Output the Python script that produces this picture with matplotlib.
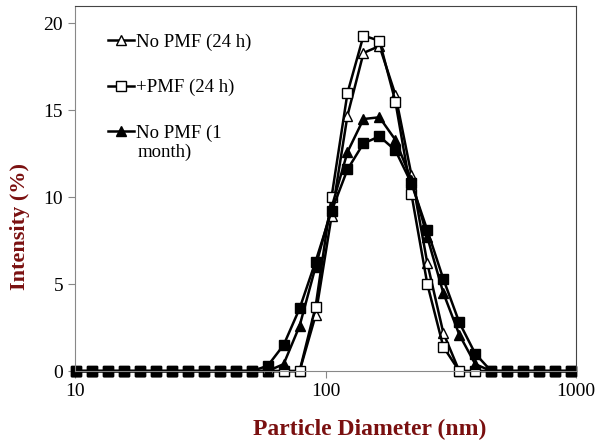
import matplotlib
matplotlib.use("Agg")
import matplotlib.pyplot as plt

# Zetasizer size bins (nm)
diameter = [10.10, 11.70, 13.54, 15.69, 18.17, 21.04, 24.36, 28.21, 32.67, 37.84,
            43.82, 50.75, 58.77, 68.06, 78.82, 91.28, 105.7, 122.4, 141.8, 164.2,
            190.1, 220.2, 255.0, 295.3, 342.0, 396.1, 458.7, 531.2, 615.1, 712.4,
            825.0, 955.4]

no_pmf_24h = [0, 0, 0, 0, 0, 0, 0, 0, 0, 0, 0, 0, 0, 0, 0, 3.2, 8.9, 14.7, 18.3, 18.7,
              15.9, 11.3, 6.2, 2.2, 0, 0, 0, 0, 0, 0, 0, 0]
pmf_24h = [0, 0, 0, 0, 0, 0, 0, 0, 0, 0, 0, 0, 0, 0, 0, 3.7, 10.0, 16.0, 19.3, 19.0,
           15.5, 10.2, 5.0, 1.4, 0, 0, 0, 0, 0, 0, 0, 0]
no_pmf_1m = [0, 0, 0, 0, 0, 0, 0, 0, 0, 0, 0, 0, 0, 0.4, 2.6, 6.0, 9.4, 12.6, 14.5, 14.6,
             13.3, 11.0, 7.7, 4.5, 2.1, 0.4, 0, 0, 0, 0, 0, 0]
pmf_1m = [0, 0, 0, 0, 0, 0, 0, 0, 0, 0, 0, 0, 0.3, 1.5, 3.6, 6.3, 9.2, 11.6, 13.1, 13.5,
          12.7, 10.8, 8.1, 5.3, 2.8, 1.0, 0, 0, 0, 0, 0, 0]

plt.rcParams['font.family'] = ['Liberation Serif', 'DejaVu Serif']

fig = plt.figure(figsize=(6, 4.46), dpi=100)
ax = fig.add_axes([0.125, 0.168, 0.835, 0.8185])

ms = 7
ax.plot(diameter, no_pmf_24h, '-^', color='black', mfc='white', mec='black', lw=1.8, ms=ms,
        label='No PMF (24 h)', clip_on=False)
ax.plot(diameter, pmf_24h, '-s', color='black', mfc='white', mec='black', lw=1.8, ms=ms,
        label='+PMF (24 h)', clip_on=False)
ax.plot(diameter, no_pmf_1m, '-^', color='black', mfc='black', lw=1.8, ms=ms,
        label='No PMF (1', clip_on=False)
ax.plot(diameter, pmf_1m, '-s', color='black', mfc='black', lw=1.8, ms=ms,
        label='_+PMF (1 month)', clip_on=False)

ax.set_xscale('log')
ax.set_xlim(10, 1000)
ax.set_ylim(0, 21)
ax.set_yticks([0, 5, 10, 15, 20])
ax.set_xticks([10, 100, 1000])
ax.set_xticklabels(['10', '100', '1000'])
ax.minorticks_off()
ax.tick_params(labelsize=14, direction='out', color='#888888', length=5)

for s in ['left', 'bottom']:
    ax.spines[s].set_color('#888888')
for s in ['top', 'right']:
    ax.spines[s].set_color('#444444')

ax.set_xlabel('Particle Diameter (nm)', fontsize=17, fontweight='bold', color='#7a1010')
ax.set_ylabel('Intensity (%)', fontsize=16, fontweight='bold', color='#7a1010')
ax.xaxis.set_label_coords(0.589, -0.13)
ax.yaxis.set_label_coords(-0.09, 0.397)

ax.legend(loc='upper left', bbox_to_anchor=(0.05, 0.945), frameon=False, fontsize=13.5,
          handlelength=1.4, handletextpad=0.1, labelspacing=1.5, borderaxespad=0)
# wrapped remainder of the third legend label
ax.text(0.124, 0.60, 'month)', transform=ax.transAxes, fontsize=13.5, va='center', ha='left')

plt.savefig("out.png")
